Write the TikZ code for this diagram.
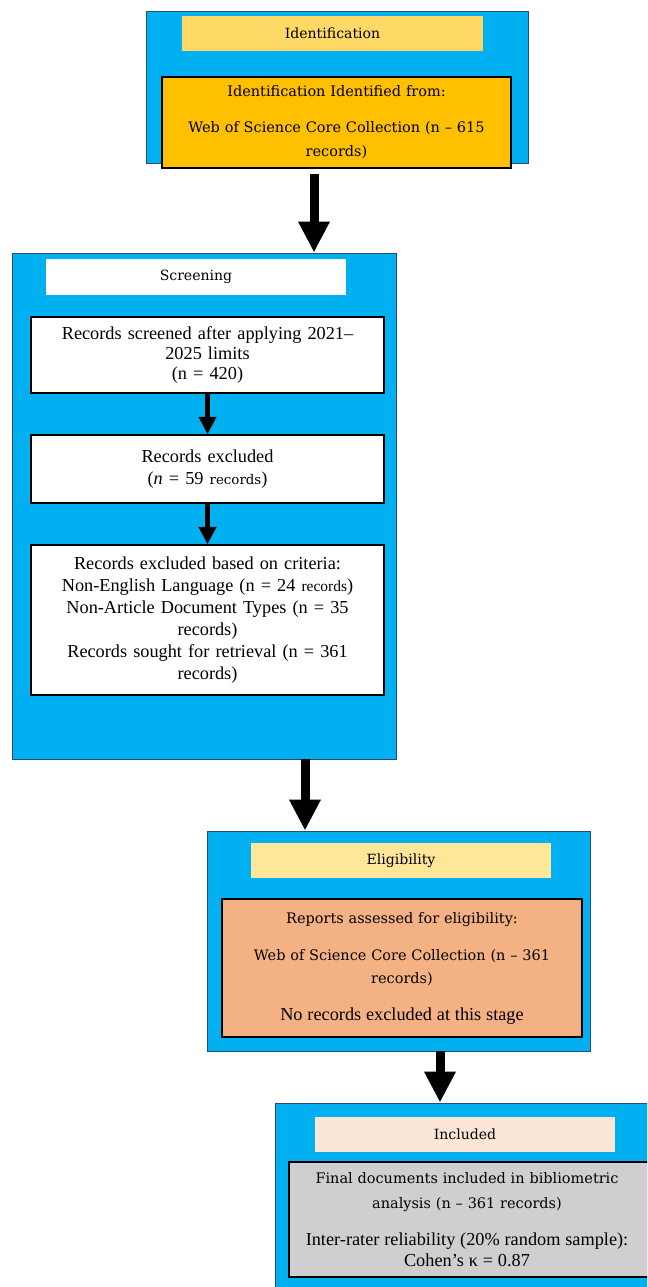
\documentclass[tikz,border=0pt]{standalone}
\usepackage{fontspec}
\setmainfont{Liberation Serif}
\newfontfamily\widefont{DejaVu Serif}
\usetikzlibrary{arrows.meta}
\definecolor{stageblue}{HTML}{00B0F0}
\definecolor{stageedge}{HTML}{2E4A7A}
\definecolor{idyellow}{HTML}{FFD966}
\definecolor{idorange}{HTML}{FFC000}
\definecolor{eliyellow}{HTML}{FFE699}
\definecolor{elisalmon}{HTML}{F4B183}
\definecolor{incpeach}{HTML}{FBE5D6}
\definecolor{incgrey}{HTML}{D0CECE}
\begin{document}
\begin{tikzpicture}[
			x=0.025cm, y=-0.025cm,
			stage/.style={draw=stageedge, line width=0.6pt, fill=stageblue},
			heading/.style={fill=#1, minimum width=7.5cm, minimum height=0.875cm, inner sep=0pt, font=\widefont\fontsize{10}{12}\selectfont},
			box/.style={draw, line width=0.9pt, fill=#1, align=center, inner xsep=0pt, inner ysep=2pt},
			bigarrow/.style={line width=6.4pt, -{Triangle[width=21pt,length=22pt]}},
			smallarrow/.style={line width=3.6pt, -{Triangle[width=12pt,length=12.5pt]}}
			]
			\path[use as bounding box, clip] (0,0) rectangle (647,1287);
			
			% Identification
			\node (idblue) [stage, minimum width=9.55cm, minimum height=3.8cm] at (337,87) {};
			\node (idtitle) [heading=idyellow, minimum width=7.525cm] at (332.5,33.5) {Identification};
			\node (idbox) [box=idorange, text width=8.725cm, minimum height=2.275cm, font=\widefont\fontsize{10.3}{17}\selectfont] at (336.5,122.5)
				{Identification Identified from:\\[8.6pt] Web of Science Core Collection (n – 615\\ records)};
			
			% Screening
			\node (scrblue) [stage, minimum width=9.6cm, minimum height=12.65cm] at (204,506) {};
			\node (scrtitle) [heading=white] at (196,277) {Screening};
			\node (scr1) [box=white, text width=8.825cm, minimum height=1.9cm, font=\fontsize{13}{14.2}\selectfont] at (207.5,355)
				{Records screened after applying 2021–\\ 2025 limits\\ (n = 420)};
			\node (scr2) [box=white, text width=8.825cm, minimum height=1.7cm, font=\fontsize{13}{15.6}\selectfont] at (207.5,469)
				{Records excluded\\ (\textit{n} = 59 {\widefont\fontsize{9.5}{12}\selectfont records})};
			\node (scr3) [box=white, text width=8.825cm, minimum height=3.75cm, font=\fontsize{13}{15.6}\selectfont] at (207.5,620)
				{Records excluded based on criteria:\\ Non-English Language (n = 24 {\fontsize{11}{12}\selectfont records})\\ Non-Article Document Types (n = 35\\ records)\\ Records sought for retrieval (n = 361\\ records)};
			\draw[smallarrow] (scr1.south) -- (scr2.north);
			\draw[smallarrow] (scr2.south) -- (scr3.north);
			
			% Eligibility
			\node (eliblue) [stage, minimum width=9.575cm, minimum height=5.5cm] at (398.5,941) {};
			\node (elititle) [heading=eliyellow] at (401,860.5) {Eligibility};
			\node (elibox) [box=elisalmon, text width=9cm, minimum height=3.45cm, font=\widefont\fontsize{10.3}{16.4}\selectfont] at (402,968)
				{Reports assessed for eligibility:\\[9.9pt] Web of Science Core Collection (n – 361\\ records)\\[9.9pt] {\rmfamily\fontsize{13}{14}\selectfont No records excluded at this stage}};
			
			% Included (runs off the page on the right)
			\node (incblue) [stage, minimum width=9.625cm, minimum height=4.925cm] at (467.5,1201.5) {};
			\node (inctitle) [heading=incpeach] at (465,1134.5) {Included};
			\path[box=incgrey] (289,1162) rectangle (660,1277);
			\node (incbox) [align=center, text width=8.9cm, font=\widefont\fontsize{10.3}{17.8}\selectfont] at (467,1219.5)
				{Final documents included in bibliometric\\ analysis (n – 361 records)\\[8.5pt] {\rmfamily\fontsize{13}{14}\selectfont Inter-rater reliability (20\% random sample):}\\[-2.8pt] {\rmfamily\fontsize{13}{14}\selectfont Cohen's κ = 0.87}};
			
			% stage arrows
			\coordinate (a1) at (314,174);
			\coordinate (a2) at (305,0);
			\coordinate (a3) at (440,0);
			\draw[bigarrow] (a1) -- (a1 |- scrblue.north);
			\draw[bigarrow] (scrblue.south -| a2) -- (eliblue.north -| a2);
			\draw[bigarrow] (eliblue.south -| a3) -- (incblue.north -| a3);
		\end{tikzpicture}
\end{document}
